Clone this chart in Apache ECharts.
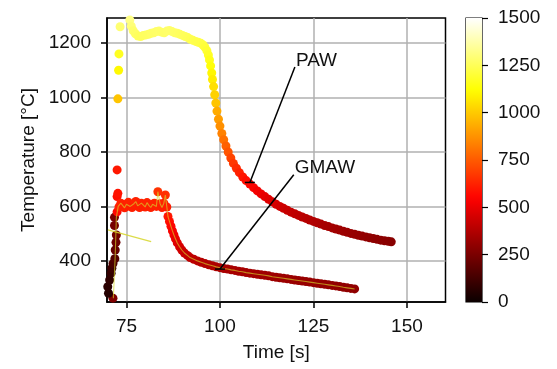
<!DOCTYPE html>
<html>
<head>
<meta charset="utf-8">
<script src="https://cdn.jsdelivr.net/npm/echarts@6/dist/echarts.min.js"></script>
<style>html,body{margin:0;padding:0;background:#fff}#c{width:557px;height:369px}</style>
</head>
<body>
<div id="c"></div>
<script>
// ---------- data ----------
const xTicks = [75, 100, 125, 150];
const yTicks = [400, 600, 800, 1000, 1200];
const cbTicks = [0, 250, 500, 750, 1000, 1250, 1500];

// PAW: time [s], temperature [°C], colour value
const pawTime = [73.3, 73.0, 72.9, 72.7,
  75.9, 76.3, 76.8, 77.4, 78.1, 78.8, 79.5, 80.2, 80.9, 81.6, 82.3, 83.0, 83.7, 84.4, 85.1, 85.8, 86.5, 87.2, 87.9, 88.6, 89.3, 90.0, 90.7, 91.4, 92.1, 92.8, 93.5, 94.2, 94.9, 95.5, 96.0, 96.5, 96.9, 97.2, 97.5, 97.8, 98.0, 98.3, 98.6, 98.9, 99.2, 99.6, 100.0, 100.5, 101.0, 101.6, 102.2, 102.9, 103.6, 104.4, 105.2, 106.1, 107.0, 108.0, 109.0, 110.0, 111.0, 112.0, 113.0, 114.0, 115.0, 116.0, 117.0, 118.0, 119.0, 120.0, 121.0, 122.0, 123.0, 124.0, 125.0, 126.0, 127.0, 128.0, 129.0, 130.0, 131.0, 132.0, 133.0, 134.0, 135.0, 136.0, 137.0, 138.0, 139.0, 140.0, 141.0, 142.0, 143.0, 144.0, 145.0, 145.8];
const pawTemp = [1260, 1160, 1100, 995,
  1285, 1262, 1245, 1234, 1226, 1224, 1228, 1230, 1232, 1236, 1238, 1242, 1244, 1240, 1238, 1244, 1246, 1242, 1238, 1236, 1232, 1228, 1224, 1220, 1214, 1210, 1206, 1203, 1199, 1193, 1184, 1172, 1156, 1138, 1116, 1090, 1066, 1040, 1010, 980, 950, 920, 895, 868, 845, 822, 800, 778, 758, 740, 724, 708, 695, 682, 669, 657, 646, 636, 626, 617, 608, 600, 593, 586, 579, 573, 567, 561, 556, 550, 545, 540, 535, 530, 526, 521, 517, 513, 509, 505, 501, 498, 494, 491, 488, 485, 482, 479, 476, 474, 472, 470];
const pawColour = [1290, 1170, 1110, 990,
  1320, 1300, 1280, 1270, 1260, 1255, 1260, 1262, 1265, 1270, 1272, 1275, 1278, 1275, 1272, 1276, 1278, 1275, 1270, 1268, 1262, 1258, 1254, 1250, 1243, 1238, 1232, 1228, 1222, 1215, 1205, 1192, 1176, 1156, 1132, 1104, 1078, 1050, 1018, 986, 930, 900, 870, 835, 800, 765, 735, 700, 670, 645, 620, 598, 578, 560, 542, 525, 508, 494, 480, 468, 456, 445, 435, 425, 416, 408, 400, 393, 386, 379, 372, 366, 360, 354, 349, 344, 339, 334, 329, 325, 320, 316, 312, 308, 304, 300, 297, 294, 291, 288, 285, 282];

// GMAW: time [s], temperature [°C], colour value
const gmawTime = [71.4, 70.2, 70.0, 70.5, 70.9, 71.1, 71.4, 71.9, 72.0, 72.2, 72.3, 71.8, 71.8, 72.5, 72.5, 72.7, 72.5,
  73.0, 73.5, 74.0, 74.5, 75.0, 75.5, 76.0, 76.5, 77.0, 77.5, 78.0, 78.5, 79.0, 79.5, 80.0, 80.5, 81.0, 81.5, 82.0, 82.5, 83.0, 83.4, 84.0, 84.5, 85.0, 85.4, 85.8,
  86.1, 86.5, 86.9, 87.3, 87.7, 88.1, 88.6, 89.2, 89.8, 90.5, 91.3, 92.0, 93.0, 94.0, 95.0, 96.0, 97.0, 98.0, 99.0,
  100, 101, 102, 103, 104, 105, 106, 107, 108, 109, 110, 111, 112, 113, 114, 115, 116, 117, 118, 119, 120, 121, 122, 123, 124, 125, 126, 127, 128, 129, 130, 131, 132, 133, 134, 135, 136];
const gmawTemp = [263, 281, 305, 330, 355, 373, 390, 408, 440, 468, 495, 530, 560, 580, 636, 648, 734,
  598, 612, 605, 595, 608, 615, 600, 596, 610, 618, 602, 596, 612, 606, 598, 614, 604, 596, 608, 612, 600, 654, 610, 596, 612, 642, 598,
  563, 545, 527, 510, 495, 481, 466, 452, 440, 429, 420, 412, 406, 400, 395, 390, 386, 382, 378,
  375, 372, 370, 367, 365, 362, 360, 357, 355, 353, 351, 349, 347, 345, 342, 340, 338, 336, 334, 332, 330, 328, 326, 324, 322, 320, 318, 316, 314, 312, 310, 308, 306, 303, 301, 299, 297];
const gmawColour = [260, 60, 70, 80, 90, 110, 140, 160, 200, 220, 230, 240, 250, 560, 580, 590, 600,
  620, 625, 620, 615, 620, 625, 620, 615, 620, 625, 620, 615, 625, 620, 615, 625, 620, 615, 620, 625, 620, 660, 620, 615, 625, 655, 615,
  600, 580, 560, 540, 520, 500, 480, 460, 445, 430, 418, 408, 398, 390, 382, 375, 370, 366, 362,
  360, 358, 356, 354, 352, 350, 348, 346, 344, 342, 340, 338, 336, 334, 332, 330, 328, 327, 326, 324, 322, 320, 318, 316, 315, 314, 312, 310, 309, 308, 306, 305, 304, 303, 302, 301, 300];

// thin yellow trace through the GMAW points (start segment, then the GMAW curve from the plateau on)
const traceStartTime = [71.5, 72.0, 72.3, 72.8];
const traceStartTemp = [263, 420, 560, 600];
const traceFromIndex = 17;
// stray thin segment at the left
const strayTime = [70.05, 81.6];
const strayTemp = [514, 471];

// annotations: label, arrow tip (time, temp), text anchor (time, temp)
const noteLabels = ['PAW', 'GMAW'];
const noteTipTime = [108, 100];
const noteTipTemp = [688, 370];
const noteTextTime = [120.3, 120.0];
const noteTextTemp = [1116, 720];

// ---------- helpers ----------
function hot(t) {
  const r = Math.min(1, 0.0416 + t / 0.365079 * (1 - 0.0416));
  const g = Math.max(0, Math.min(1, (t - 0.365079) / (0.746032 - 0.365079)));
  const b = Math.max(0, Math.min(1, (t - 0.746032) / (1 - 0.746032)));
  const h = v => Math.round(v * 255).toString(16).padStart(2, '0');
  return '#' + h(r) + h(g) + h(b);
}
const N = 40;
const hotColors = [];
const hotStops = [];
for (let i = 0; i <= N; i++) {
  hotColors.push(hot(i / N));
  hotStops.push({ offset: i / N, color: hot(i / N) });
}
const zip3 = (a, b, c) => a.map((v, i) => [v, b[i], c[i]]);
const pawData = zip3(pawTime, pawTemp, pawColour);
const gmawData = zip3(gmawTime, gmawTemp, gmawColour);
const traceData = traceStartTime.map((v, i) => [v, traceStartTemp[i]])
  .concat(gmawTime.slice(traceFromIndex).map((v, i) => [v, gmawTemp[traceFromIndex + i]]));
const strayData = strayTime.map((v, i) => [v, strayTemp[i]]);
const noteData = noteLabels.map((l, i) => [noteTipTime[i], noteTipTemp[i], noteTextTime[i], noteTextTemp[i]]);

const FONT = 'Liberation Sans, Arial, Helvetica, sans-serif';
const FS = 19;
const TXT = '#111';
const plain = v => String(Math.round(v));

const chart = echarts.init(document.getElementById('c'), null, { renderer: 'canvas' });
chart.setOption({
  animation: false,
  backgroundColor: '#fff',
  textStyle: { fontFamily: FONT },
  grid: [
    { left: 107, top: 18, right: 111.5, bottom: 67, show: true, borderColor: '#000', borderWidth: 1.5, backgroundColor: 'transparent' },
    { left: 466, top: 18, right: 75, bottom: 67, show: true, borderColor: '#000', borderWidth: 1.2, backgroundColor: 'transparent' }
  ],
  xAxis: [
    {
      type: 'value', gridIndex: 0, min: 69.8, max: 160.3,
      name: 'Time [s]', nameLocation: 'middle', nameGap: 41,
      nameTextStyle: { fontSize: FS, color: TXT, fontFamily: FONT },
      axisLine: { show: true, onZero: false, lineStyle: { color: '#000', width: 1.5 } },
      axisTick: { show: true, length: 6, customValues: xTicks, lineStyle: { color: '#000', width: 1.5 } },
      axisLabel: { fontSize: FS, color: TXT, fontFamily: FONT, margin: 15, customValues: xTicks, formatter: plain },
      splitLine: { show: true, lineStyle: { color: '#b0b0b0', width: 1.5 } }
    },
    { type: 'category', gridIndex: 1, data: [''], show: false }
  ],
  yAxis: [
    {
      type: 'value', gridIndex: 0, min: 249, max: 1292,
      name: 'Temperature [°C]', nameLocation: 'middle', nameGap: 69, nameRotate: 90,
      nameTextStyle: { fontSize: FS, color: TXT, fontFamily: FONT },
      axisLine: { show: true, onZero: false, lineStyle: { color: '#000', width: 1.5 } },
      axisTick: { show: true, length: 6, customValues: yTicks, lineStyle: { color: '#000', width: 1.5 } },
      axisLabel: { fontSize: FS, color: TXT, fontFamily: FONT, margin: 16, customValues: yTicks, formatter: plain },
      splitLine: { show: true, lineStyle: { color: '#b0b0b0', width: 1.5 } }
    },
    {
      type: 'value', gridIndex: 1, min: cbTicks[0], max: cbTicks[cbTicks.length - 1], interval: 250,
      position: 'right',
      axisLine: { show: false },
      axisTick: { show: true, length: 6, lineStyle: { color: '#000', width: 1.2 } },
      axisLabel: { fontSize: FS, color: TXT, fontFamily: FONT, margin: 16, formatter: plain },
      splitLine: { show: false }
    }
  ],
  visualMap: {
    type: 'continuous', show: false, min: 0, max: 1500, dimension: 2, seriesIndex: [0, 1],
    inRange: { color: hotColors }
  },
  series: [
    { type: 'scatter', name: 'PAW', xAxisIndex: 0, yAxisIndex: 0, data: pawData, symbolSize: 9, itemStyle: { opacity: 1 }, z: 2 },
    { type: 'scatter', name: 'GMAW', xAxisIndex: 0, yAxisIndex: 0, data: gmawData, symbolSize: 9, itemStyle: { opacity: 1 }, z: 3 },
    { type: 'line', xAxisIndex: 0, yAxisIndex: 0, data: traceData, showSymbol: false, symbol: 'none',
      lineStyle: { color: '#d6d62a', width: 1.1, opacity: 0.65 }, z: 4, silent: true },
    { type: 'line', xAxisIndex: 0, yAxisIndex: 0, data: strayData, showSymbol: false, symbol: 'none',
      lineStyle: { color: '#d6d62a', width: 1.2, opacity: 0.85 }, z: 4, silent: true },
    {
      type: 'custom', xAxisIndex: 0, yAxisIndex: 0, data: noteData, z: 10, clip: false, silent: true,
      renderItem: function (params, api) {
        const tip = api.coord([api.value(0), api.value(1)]);
        const txt = api.coord([api.value(2), api.value(3)]);
        return {
          type: 'group',
          children: [
            { type: 'line', shape: { x1: txt[0] - 1, y1: txt[1] + 1, x2: tip[0], y2: tip[1] }, style: { stroke: '#000', lineWidth: 1.5 } },
            { type: 'line', shape: { x1: tip[0] - 5, y1: tip[1], x2: tip[0] + 5, y2: tip[1] }, style: { stroke: '#000', lineWidth: 1.5 } },
            { type: 'text', x: txt[0], y: txt[1] + 4, style: { text: noteLabels[params.dataIndex], fontSize: FS, fontFamily: FONT, fill: TXT, align: 'left', verticalAlign: 'bottom' } }
          ]
        };
      }
    },
    {
      type: 'bar', xAxisIndex: 1, yAxisIndex: 1, data: [cbTicks[cbTicks.length - 1]], barWidth: '100%', silent: true,
      itemStyle: { color: { type: 'linear', x: 0, y: 1, x2: 0, y2: 0, colorStops: hotStops } }
    }
  ]
});
</script>
</body>
</html>
